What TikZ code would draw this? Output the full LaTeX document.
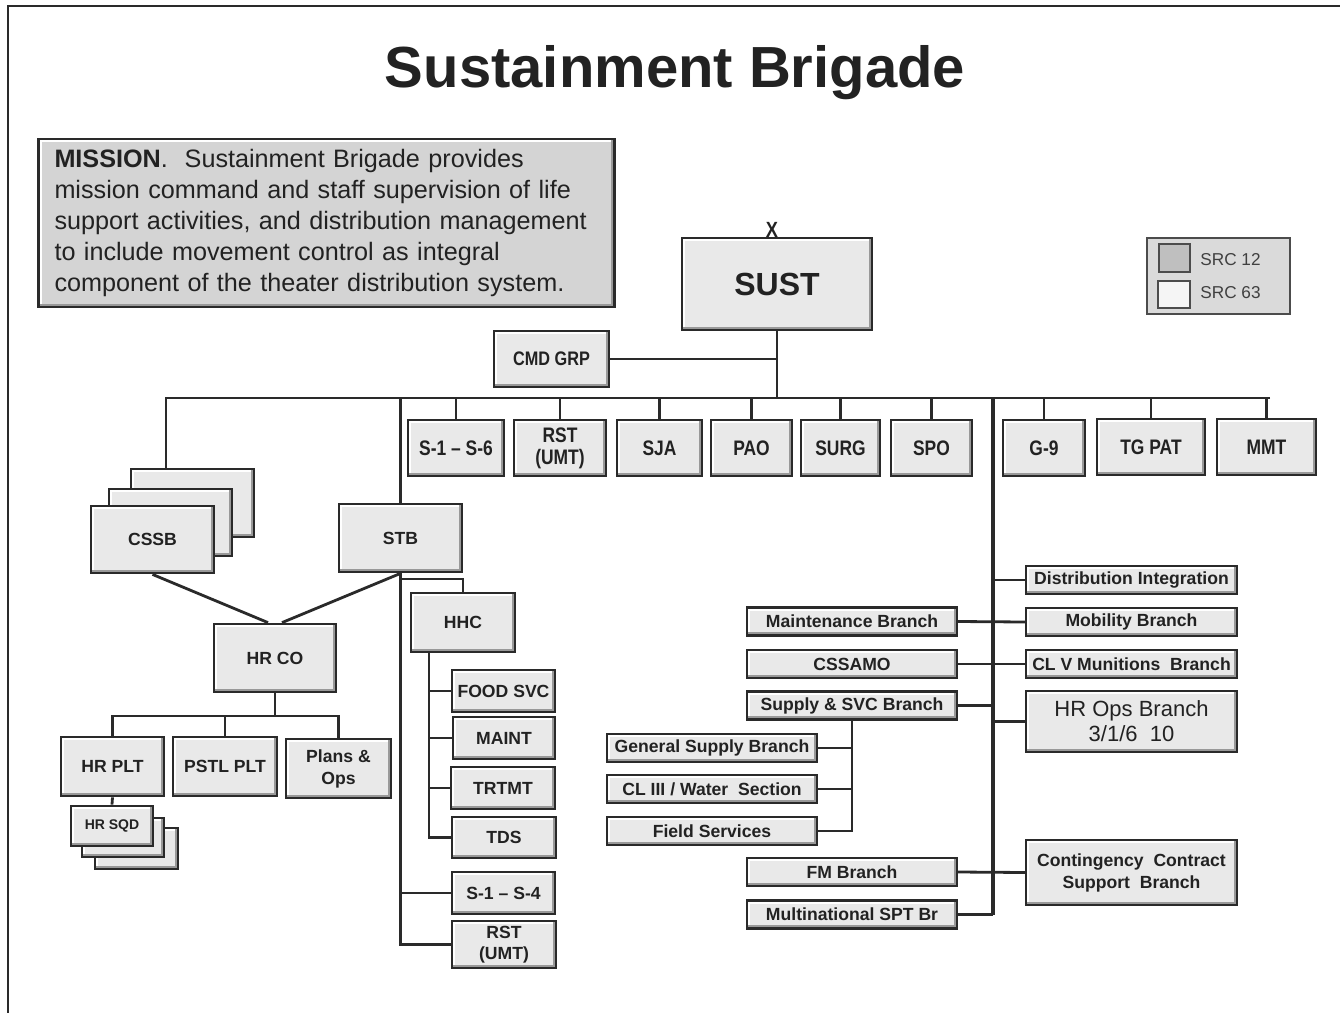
\documentclass[tikz,border=0pt]{standalone}
\usepackage{fontspec}
\setmainfont{Liberation Sans}
\newfontfamily\condfont[FakeStretch=0.83,Ligatures=TeX]{Liberation Sans}
\usepackage{tikz}

\definecolor{boxgray}{HTML}{E9E9E9}
\definecolor{missiongray}{HTML}{D4D4D4}
\definecolor{legendgray}{HTML}{DADADA}
\definecolor{edgegray}{HTML}{2A2A2A}
\definecolor{inkgray}{HTML}{222222}

\begin{document}
\begin{tikzpicture}[x=0.5pt,y=-0.5pt,
  bevel/.style={path picture={
    \draw[white,line width=3pt] (path picture bounding box.south west) -- (path picture bounding box.north west) -- (path picture bounding box.north east);
    \draw[black!40,line width=3.4pt] (path picture bounding box.south west) -- (path picture bounding box.south east) -- (path picture bounding box.north east);}},
  unit/.style={draw=edgegray,fill=boxgray,line width=1.4pt,inner sep=1pt,align=center,bevel,
    text=inkgray,font=\bfseries\fontsize{8.8}{11}\selectfont},
  staff/.style={unit,minimum height=28pt,font=\condfont\bfseries\fontsize{10.5}{11}\selectfont},
  branch/.style={unit,line width=1.2pt,minimum width=105pt,minimum height=14pt},
  link/.style={draw=edgegray,line width=1.4pt}]
\useasboundingbox (0,0) rectangle (1340,1013);
% frame
\draw[line width=1.3pt,edgegray] (8,1013) -- (8,6) -- (1340,6);

\node[text=inkgray] (title) at (675,73) {\fontsize{29}{32}\selectfont\bfseries Sustainment Brigade};

% mission statement
\node[draw=edgegray,fill=missiongray,line width=1.4pt,inner xsep=8pt,inner ysep=0pt,bevel,
  text width=272pt,minimum height=84pt,align=left,text=inkgray,
  font=\fontsize{12.6}{15.5}\selectfont] (mission) at (326.5,223)
  {\textbf{MISSION}.\ \ Sustainment Brigade provides\\
   mission command and staff supervision of life\\
   support activities, and distribution management\\
   to include movement control as integral\\
   component of the theater distribution system.};

% legend
\node[draw=black!70,fill=legendgray,line width=0.8pt,minimum width=71.5pt,minimum height=38pt] (legend) at (1218.5,276) {};
\node[draw=black!70,fill=black!25,line width=0.6pt,minimum width=15.5pt,minimum height=14pt] (srcbox12) at (1174.5,258) {};
\node[draw=black!70,fill=black!4,line width=0.6pt,minimum width=16pt,minimum height=13.5pt] (srcbox63) at (1174,294.5) {};
\node[anchor=west,inner sep=2pt,text=black!75,font=\fontsize{8.6}{10}\selectfont] (src12) at (1196,260) {SRC 12};
\node[anchor=west,inner sep=2pt,text=black!75,font=\fontsize{8.6}{10}\selectfont] (src63) at (1196,293) {SRC 63};

% headquarters
\node[unit,minimum width=95pt,minimum height=46pt,font=\bfseries\fontsize{16}{18}\selectfont] (sust) at (777,284) {SUST};
\node[inner sep=0pt,text=inkgray,font=\condfont\bfseries\fontsize{11}{11}\selectfont] (echelon) at (772,230) {X};
\node[unit,minimum width=57.5pt,minimum height=28pt,font=\condfont\bfseries\fontsize{9.8}{11}\selectfont] (cmdgrp) at (551.5,359) {CMD GRP};

% staff sections
\node[staff,minimum width=48pt]   (s1s6)   at (456,448)    {S-1 \textendash\ S-6};
\node[staff,minimum width=46pt]   (rstumt) at (560,448)    {RST\\(UMT)};
\node[staff,minimum width=42.5pt] (sja)    at (659.5,448)  {SJA};
\node[staff,minimum width=40.5pt] (pao)    at (751.5,448)  {PAO};
\node[staff,minimum width=39.5pt] (surg)   at (840.5,448)  {SURG};
\node[staff,minimum width=40.5pt] (spo)    at (931.5,448)  {SPO};
\node[staff,minimum width=41pt]   (g9)     at (1044,448)   {G-9};
\node[staff,minimum width=54pt]   (tgpat)  at (1151,447)   {TG PAT};
\node[staff,minimum width=49.5pt] (mmt)    at (1266.5,447) {MMT};

% battalions
\node[unit,minimum width=61.5pt,minimum height=34pt] (cssbC) at (192.5,503) {};
\node[unit,minimum width=61.5pt,minimum height=33.5pt] (cssbB) at (170.5,522.5) {};
\node[unit,minimum width=61.5pt,minimum height=33.5pt] (cssbA) at (152.5,539.5) {CSSB};
\node[unit,minimum width=61.5pt,minimum height=34pt] (stb) at (400.5,538) {STB};
\node[unit,minimum width=61pt,minimum height=34pt] (hrco) at (275,658) {HR CO};

\node[unit,minimum width=51.5pt,minimum height=29.5pt] (hrplt) at (112.5,766.5) {HR PLT};
\node[unit,minimum width=52pt,minimum height=29.5pt] (pstl) at (225,766.5) {PSTL PLT};
\node[unit,minimum width=52.5pt,minimum height=29.5pt] (plans) at (338.5,768.5) {Plans \&\\Ops};
\node[unit,minimum width=41.5pt,minimum height=20.5pt] (hrsqdC) at (136.5,848.5) {};
\node[unit,minimum width=41pt,minimum height=19.5pt] (hrsqdB) at (123,837.5) {};
\node[unit,minimum width=41pt,minimum height=20pt,font=\bfseries\fontsize{7}{8}\selectfont] (hrsqdA) at (112,826) {HR SQD};

\node[unit,minimum width=52pt,minimum height=29.5pt] (hhc) at (463,622.5) {HHC};
\node[unit,minimum width=51.5pt,minimum height=21pt] (food) at (503.5,691) {FOOD SVC};
\node[unit,minimum width=51pt,minimum height=21pt] (maint) at (504,738) {MAINT};
\node[unit,minimum width=52pt,minimum height=21pt] (trtmt) at (503,788) {TRTMT};
\node[unit,minimum width=52pt,minimum height=20.5pt] (tds) at (504,837.5) {TDS};
\node[unit,minimum width=51.5pt,minimum height=21pt] (s1s4) at (503.5,893) {S-1 \textendash\ S-4};
\node[unit,minimum width=52pt,minimum height=23.5pt,font=\bfseries\fontsize{8.8}{10.5}\selectfont] (rstb) at (504,944.5) {RST\\(UMT)};

% branches
\node[branch] (maintbr)  at (852,621.5) {Maintenance Branch};
\node[branch] (cssamo)   at (852,664)   {CSSAMO};
\node[branch] (supply)   at (852,705.5) {Supply \& SVC Branch};
\node[branch] (fm)       at (852,872)   {FM Branch};
\node[branch] (multinat) at (852,914.5) {Multinational SPT Br};
\node[branch] (gensup)   at (712,748)   {General Supply Branch};
\node[branch] (clthree)  at (712,789)   {CL III / Water\ \ Section};
\node[branch] (field)    at (712,831)   {Field Services};
\node[branch,minimum width=105.5pt] (distint)  at (1131.5,580) {Distribution Integration};
\node[branch,minimum width=105.5pt] (mobility) at (1131.5,622) {Mobility Branch};
\node[branch,minimum width=105.5pt] (clv)      at (1131.5,664) {CL V Munitions\ \ Branch};
\node[branch,minimum width=105.5pt,minimum height=30.5pt,font=\fontsize{11}{12.5}\selectfont] (hrops) at (1131.5,721.5) {HR Ops Branch\\3/1/6\ \ 10};
\node[branch,minimum width=105.5pt,minimum height=32.5pt] (ccsb) at (1131.5,872.5) {Contingency\ \ Contract\\Support\ \ Branch};

% connectors
\coordinate (busL) at (166,398);
\coordinate (busR) at (1270,398);
\coordinate (spine) at (993,398);
\coordinate (hrbus) at (275,716);
\coordinate (stbknee) at (400.5,579);
\coordinate (hhcspine) at (429,652);

\draw[link] (sust.south) -- (sust.south |- busL);
\draw[link] (cmdgrp.east) -- (cmdgrp.east -| sust.south);
\draw[link] (busR) -- (busL) -- (busL |- cssbC.north);
\foreach \n in {s1s6,rstumt,sja,pao,surg,spo,g9,tgpat,mmt}
  \draw[link] (\n.north) -- (\n.north |- busL);

\draw[link] (busL -| stb.north) -- (stb.north);
\draw[link] (cssbA.south) -- ([xshift=-3.5pt]hrco.north);
\draw[link] (stb.south) -- ([xshift=3.5pt]hrco.north);
\draw[link] (hrco.south) -- (hrbus);
\draw[link] (hrplt.north) |- (hrbus) -| (plans.north);
\draw[link] (pstl.north) -- (pstl.north |- hrbus);
\draw[link] (hrplt.south) -- (hrsqdA.north);

\draw[link] (stb.south) |- (rstb.west);
\draw[link] (s1s4.west) -- (s1s4.west -| stb.south);
\draw[link] (stbknee) -| (hhc.north);
\draw[link] (hhcspine) |- (tds.west);
\foreach \n in {food,maint,trtmt}
  \draw[link] (\n.west) -- (\n.west -| hhcspine);

\draw[link,line width=1.8pt] (spine) -- (spine |- multinat.east);
\draw[link] (distint.west) -- (distint.west -| spine);
\draw[link] (maintbr.east) -- (mobility.west);
\draw[link] (cssamo.east) -- (clv.west);
\draw[link] (supply.east) -- (supply.east -| spine);
\draw[link] (hrops.west) -- (hrops.west -| spine);
\draw[link] (fm.east) -- (ccsb.west);
\draw[link] (multinat.east) -- (multinat.east -| spine);
\draw[link] (supply.south) |- (field.east);
\foreach \n in {gensup,clthree}
  \draw[link] (\n.east) -- (\n.east -| supply.south);
\end{tikzpicture}
\end{document}
